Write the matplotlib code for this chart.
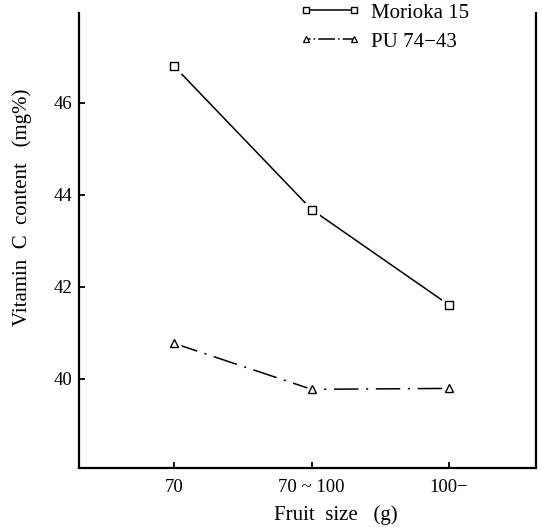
import matplotlib
matplotlib.use("Agg")
import matplotlib.pyplot as plt
from matplotlib.lines import Line2D

plt.rcParams['font.family'] = ['Liberation Serif', 'DejaVu Serif']

categories = ["70", "70 ~ 100", "100\u2212"]
morioka = [46.8, 43.68, 41.6]
pu = [40.77, 39.77, 39.79]
yticks = [40, 42, 44, 46]

W, H = 542, 527
fig = plt.figure(figsize=(W / 100, H / 100), dpi=100)
left, right, top, bottom = 79, 536, 12.7, 467.5
ax = fig.add_axes([left / W, 1 - bottom / H, (right - left) / W, (bottom - top) / H])

x = list(range(len(categories)))
dash_dot = (0, (16, 5, 1.4, 5))
for vals, ls, mk, ms in [(morioka, '-', 's', 6),
                         (pu, dash_dot, '^', 5.5)]:
    ax.plot(x, vals, color='black', lw=1.1, linestyle=ls, zorder=2)
    ax.plot(x, vals, linestyle='none', marker=mk, ms=ms, mfc='white', mec='white',
            mew=5, zorder=3)
    ax.plot(x, vals, linestyle='none', marker=mk, ms=ms, mfc='white', mec='black',
            mew=1.0, zorder=4)

handles = [Line2D([], [], color='black', lw=1.1, linestyle='-', marker='s', ms=5,
                  mfc='white', mec='black', mew=1.0),
           Line2D([], [], color='black', lw=1.1, linestyle=(0, (3, 2, 1, 2, 8, 0)), marker='^',
                  ms=5, mfc='white', mec='black', mew=0.9)]
labels = ['Morioka 15', 'PU 74\u221243']

ax.set_xlim(-0.69, 2.63)
ax.set_ylim(38.07, 47.96)
ax.set_xticks(x)
ax.set_xticklabels(categories, fontsize=13.5)
ax.set_yticks(yticks)
ax.set_yticklabels([str(v) for v in yticks], fontsize=13.5)
ax.tick_params(direction='in', length=4, width=1.3)
ax.tick_params(axis='y', pad=5)
ax.tick_params(axis='x', pad=8)

ax.spines['top'].set_visible(False)
for s in ['left', 'right', 'bottom']:
    ax.spines[s].set_linewidth(1.6)

ax.set_xlabel("Fruit  size   (g)", fontsize=15, va='center')
ax.xaxis.set_label_coords((336 - left) / (right - left), (bottom - 515) / (bottom - top))
ax.set_ylabel("Vitamin  C  content   (mg%)", fontsize=15, va='center')
ax.yaxis.set_label_coords((22 - left) / (right - left), (bottom - 207) / (bottom - top))

fig.legend(handles, labels, loc='upper left', bbox_to_anchor=(300 / W, 1 - 3 / H),
           frameon=False, fontsize=15, handlelength=2.9, numpoints=2,
           handletextpad=0.5, labelspacing=0.45, borderaxespad=0, borderpad=0)

fig.savefig("out.png", dpi=100)
